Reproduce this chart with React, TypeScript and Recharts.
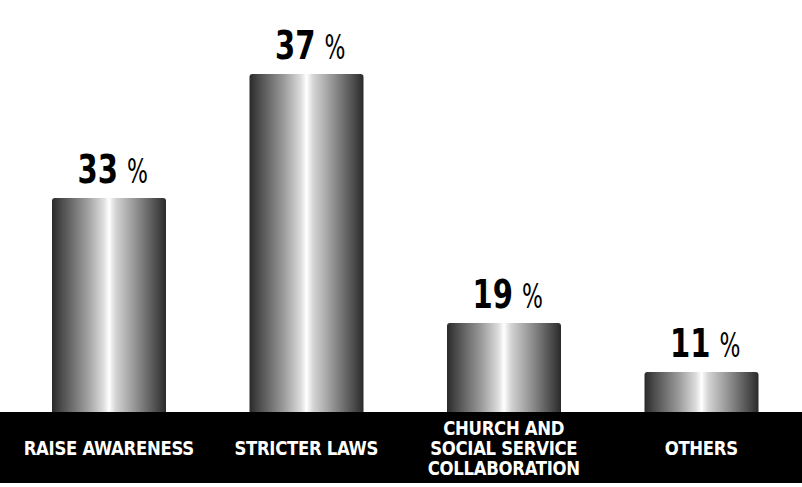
import React from 'react';
import { BarChart, Bar, XAxis, YAxis, LabelList } from 'recharts';

document.body.style.margin = '0';

// categories and values
const categories = ['RAISE AWARENESS', 'STRICTER LAWS', 'CHURCH AND\nSOCIAL SERVICE\nCOLLABORATION', 'OTHERS'];
const shares = [33, 37, 19, 11];
// bar heights as drawn in the picture (not proportional to the shares)
const barLevels = [214, 338, 89, 40];

const data = categories.map((name, i) => ({ name, share: shares[i], level: barLevels[i] }));

const FONT = '"DejaVu Sans Condensed", "Liberation Sans Narrow", sans-serif';

const CategoryTick = (props: any) => {
  const { x, y, payload } = props;
  const lines = String(payload.value).split('\n');
  const mid = y + 36;
  return (
    <g>
      {lines.map((line: string, i: number) => (
        <g key={i} transform={`translate(${x},${mid - (lines.length - 1) * 10 + i * 20})`}>
          <text
            transform="scale(1.02,1.04)"
            textAnchor="middle"
            dominantBaseline="central"
            fill="#ffffff"
            fontFamily={FONT}
            fontWeight={700}
            fontSize={18}
            letterSpacing={-0.3}
          >
            {line}
          </text>
        </g>
      ))}
    </g>
  );
};

const ShareLabel = (props: any) => {
  const { x, y, width, index } = props;
  const cx = x + width / 2;
  return (
    <g transform={`translate(${cx},${y - 15})`}>
      <text transform="scale(0.85,1.02)" x={9 / 0.85} textAnchor="end" fontFamily={FONT} fontWeight={700} fontSize={38} fill="#000">
        {shares[index]}
      </text>
      <text transform="scale(0.72,1)" x={18 / 0.72} textAnchor="start" fontFamily={FONT} fontWeight={400} fontSize={34} fill="#000">
        %
      </text>
    </g>
  );
};

const App = () => {
  return (
    <div style={{ position: 'relative', width: 802, height: 487, background: '#fff' }}>
      <div style={{ position: 'absolute', left: 0, top: 412, width: 802, height: 71, background: '#000' }} />
      <div style={{ position: 'absolute', left: 0, top: 0 }}>
        <BarChart width={802} height={487} data={data} margin={{ top: 74, right: 2, left: 10, bottom: 0 }}>
          <defs>
            <linearGradient id="metal" x1="0" y1="0" x2="1" y2="0">
              <stop offset="0%" stopColor="#2a2a2a" />
              <stop offset="8%" stopColor="#4a4a4a" />
              <stop offset="30%" stopColor="#9a9a9a" />
              <stop offset="45%" stopColor="#dcdcdc" />
              <stop offset="50%" stopColor="#ffffff" />
              <stop offset="56%" stopColor="#d4d4d4" />
              <stop offset="75%" stopColor="#8c8c8c" />
              <stop offset="92%" stopColor="#4a4a4a" />
              <stop offset="100%" stopColor="#2a2a2a" />
            </linearGradient>
          </defs>
          <XAxis
            dataKey="name"
            height={75}
            axisLine={false}
            tickLine={false}
            tickSize={0}
            tickMargin={0}
            interval={0}
            tick={<CategoryTick />}
          />
          <YAxis hide domain={[0, 338]} />
          <Bar dataKey="level" barSize={114} fill="url(#metal)" radius={[3, 3, 0, 0]} isAnimationActive={false}>
            <LabelList dataKey="share" content={<ShareLabel />} />
          </Bar>
        </BarChart>
      </div>
    </div>
  );
};

export default App;
